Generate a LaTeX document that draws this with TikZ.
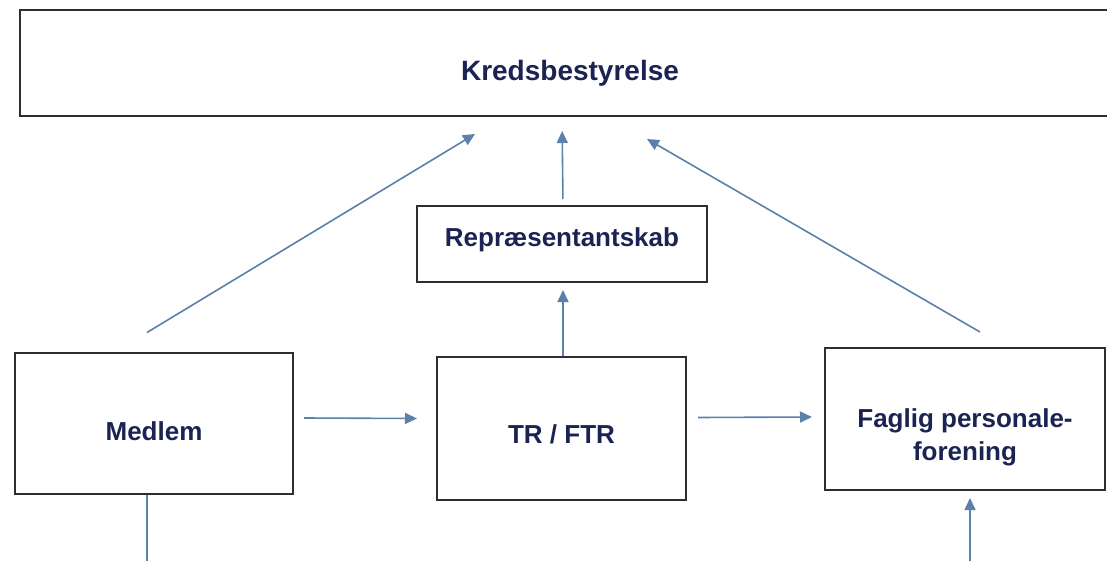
\documentclass[tikz,border=0pt]{standalone}
\usepackage{fontspec}
\setmainfont{Liberation Sans}
\usepackage{tikz}
\usetikzlibrary{arrows.meta, positioning, calc}
\definecolor{orgtext}{HTML}{1A2352}
\definecolor{orgline}{HTML}{5A80AB}
\definecolor{orgbox}{HTML}{2E2E2E}
\tikzset{
         orgbox/.style={draw=orgbox, line width=2pt, align=center, text=orgtext,
                        font=\fontsize{26}{33}\selectfont\bfseries},
         textpos/.style 2 args={text height=#1, text depth=#2},
         flow/.style={->, draw=orgline, line width=1.6pt},
         plainflow/.style={draw=orgline, line width=1.6pt}
      }
\begin{document}
\begin{tikzpicture}[x=1pt, y=-1pt, >={Triangle[length=12pt,width=11pt]}]
  \useasboundingbox (0,0) rectangle (1107,561);
  % boxes
  \node[orgbox, minimum width=1100pt, minimum height=106pt, textpos={36pt}{0pt},
        font=\fontsize{28}{34}\selectfont\bfseries] (kreds) at (570,63) {Kredsbestyrelse};
  \node[orgbox, minimum width=290pt, minimum height=76pt, textpos={19pt}{14pt}] (repr) at (562,244) {Repræsentantskab};
  \node[orgbox, minimum width=278pt, minimum height=141pt, textpos={35pt}{0pt}] (medlem) at (154,423) {Medlem};
  \node[orgbox, minimum width=249pt, minimum height=143pt, textpos={29pt}{0pt}] (tr) at (561.5,428.5) {TR / FTR};
  \node[orgbox, minimum width=280pt, minimum height=142pt, textpos={82pt}{0pt}] (faglig) at (965,419) {Faglig personale-\\forening};
  % free ends at the lower edge
  \coordinate (mbot) at (147,570);
  \coordinate (fbot) at (970,570);
  % connectors
  \draw[flow] ([shift={(10,-5)}]medlem.east) -- ([shift={(-19,-10)}]tr.west);
  \draw[flow] ([shift={(11,-11)}]tr.east) -- ([shift={(-12,-2)}]faglig.west);
  \draw[flow, shorten >=7pt] ([xshift=1.5]tr.north) -- ([xshift=1]repr.south);
  \draw[flow, shorten <=6pt, shorten >=14pt] ([xshift=1]repr.north) -- (repr.north |- kreds.south);
  \draw[flow] ([shift={(-7,-19)}]medlem.north) -- ([shift={(-95,17)}]kreds.south);
  \draw[flow] ([shift={(15,-15)}]faglig.north) -- ([shift={(77,22)}]kreds.south);
  \draw[plainflow] (mbot) -- (mbot |- medlem.south);
  \draw[flow, shorten >=7pt] (fbot) -- (fbot |- faglig.south);
\end{tikzpicture}
\end{document}
